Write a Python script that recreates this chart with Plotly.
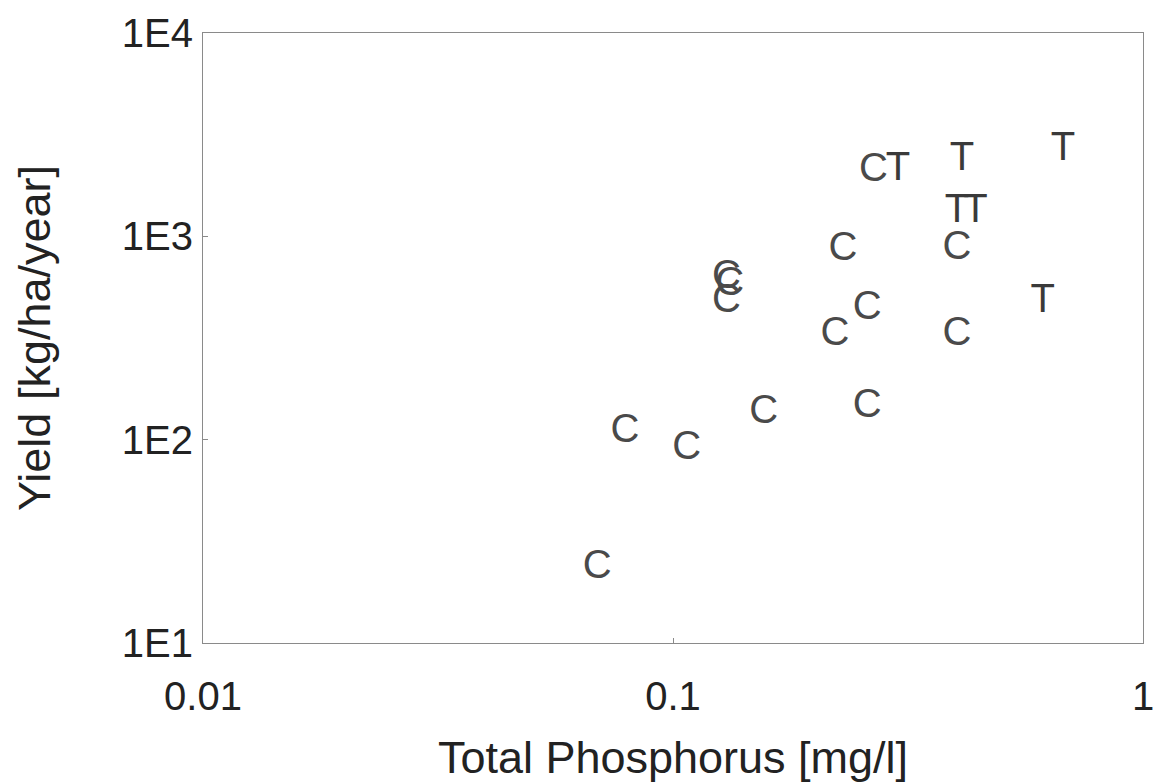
import plotly.graph_objects as go

# Data (Total Phosphorus mg/l, Yield kg/ha/year)
c_x = [0.069, 0.079, 0.107, 0.130, 0.132, 0.130, 0.156, 0.230, 0.221, 0.259, 0.259, 0.267, 0.402, 0.402]
c_y = [23.5, 109, 90, 625, 578, 476, 136, 860, 328, 440, 145, 2100, 870, 328]
t_x = [0.301, 0.412, 0.402, 0.440, 0.612, 0.676]
t_y = [2125, 2380, 1320, 1320, 476, 2670]

x_tickvals = [0.01, 0.1, 1]
x_ticktext = ["0.01", "0.1", "1"]
y_tickvals = [10, 100, 1000, 10000]
y_ticktext = ["1E1", "1E2", "1E3", "1E4"]

FONT = "Liberation Sans, Arial, sans-serif"

fig = go.Figure()
fig.add_trace(go.Scatter(x=c_x, y=c_y, mode="text", text=["C"] * len(c_x),
                         textposition="middle center",
                         textfont=dict(family=FONT, size=40, color="#4a4a4a"),
                         showlegend=False))
fig.add_trace(go.Scatter(x=t_x, y=t_y, mode="text", text=["T"] * len(t_x),
                         textposition="middle center",
                         textfont=dict(family=FONT, size=40, color="#3a3a3a"),
                         showlegend=False))

axis_common = dict(showgrid=False, zeroline=False, showline=True, linecolor="#8a8a8a",
                   linewidth=1, mirror=True, ticks="inside", ticklen=5, tickcolor="#8a8a8a",
                   tickfont=dict(family=FONT, size=40, color="#222222"))

fig.update_xaxes(type="log", range=[-2, 0], tickvals=x_tickvals, ticktext=x_ticktext,
                 ticklabelstandoff=18,
                 title=dict(text="Total Phosphorus [mg/l]", standoff=24,
                            font=dict(family=FONT, size=45, color="#222222")),
                 **axis_common)
fig.update_yaxes(type="log", range=[1, 4], tickvals=y_tickvals, ticktext=y_ticktext,
                 ticklabelstandoff=1,
                 title=dict(text="Yield [kg/ha/year]", standoff=57,
                            font=dict(family=FONT, size=45, color="#222222")),
                 **axis_common)

fig.update_layout(width=1155, height=783, plot_bgcolor="white", paper_bgcolor="white",
                  margin=dict(l=203, r=12, t=33, b=140, autoexpand=False))

fig.write_html("out.html")
